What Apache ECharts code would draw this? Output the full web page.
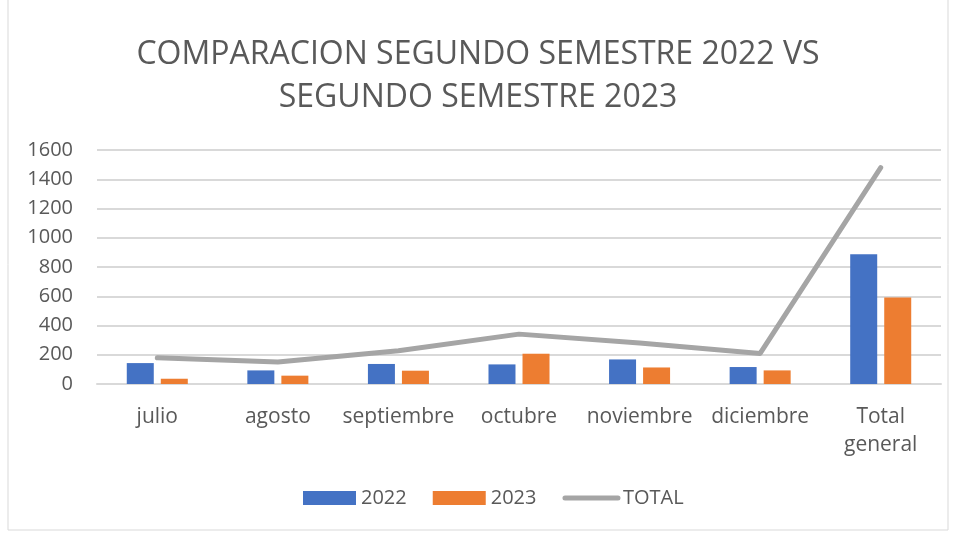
<!DOCTYPE html>
<html>
<head>
<meta charset="utf-8">
<script src="https://cdn.jsdelivr.net/npm/echarts@6/dist/echarts.min.js"></script>
<style>
  html, body { margin: 0; padding: 0; background: #fff; }
  #chart { width: 956px; height: 533px; }
</style>
</head>
<body>
<div id="chart"></div>
<script>
// categorias del eje x
const categories = ["julio", "agosto", "septiembre", "octubre", "noviembre", "diciembre", "Total\ngeneral"];
// valores por serie
const data2022 = [143, 93, 137, 134, 168, 116, 888];
const data2023 = [36, 57, 91, 207, 113, 93, 592];
const dataTotal = [179, 150, 228, 341, 281, 209, 1480];
const yTicks = [0, 200, 400, 600, 800, 1000, 1200, 1400, 1600];

const font = '"Open Sans", "Noto Sans", sans-serif';
const textColor = "#595959";

let myChart = echarts.init(document.getElementById("chart"));
let options = {
  animation: false,
  title: {
    text: "COMPARACION SEGUNDO SEMESTRE 2022 VS\nSEGUNDO SEMESTRE 2023",
    left: "center",
    top: 28,
    textStyle: {
      fontFamily: font,
      fontSize: 32,
      fontWeight: "normal",
      color: textColor,
      lineHeight: 43,
    },
  },
  graphic: [
    {
      type: "rect",
      shape: { x: 8, y: -2, width: 940, height: 532 },
      style: { fill: "none", stroke: "#d9d9d9", lineWidth: 1 },
    },
  ],
  grid: {
    left: 97,
    right: 15,
    top: 150,
    bottom: 149,
    containLabel: false,
  },
  legend: {
    bottom: 20,
    left: 298,
    itemWidth: 53,
    itemHeight: 14,
    itemGap: 26,
    textStyle: { fontFamily: font, fontSize: 20, color: textColor },
    data: [
      { name: "2022", icon: "rect" },
      { name: "2023", icon: "rect" },
      { name: "TOTAL", itemStyle: { opacity: 0 }, lineStyle: { width: 5, cap: "round" } },
    ],
  },
  xAxis: {
    type: "category",
    data: categories,
    axisTick: { show: false },
    axisLine: { lineStyle: { color: "#d9d9d9", width: 2 } },
    axisLabel: {
      fontFamily: font,
      fontSize: 21,
      color: textColor,
      margin: 19,
      lineHeight: 28,
      interval: 0,
    },
  },
  yAxis: {
    type: "value",
    min: yTicks[0],
    max: yTicks[yTicks.length - 1],
    interval: 200,
    axisLine: { show: false },
    axisTick: { show: false },
    axisLabel: {
      fontFamily: font,
      fontSize: 20,
      color: textColor,
      margin: 24,
      formatter: (v) => String(v),
    },
    splitLine: { lineStyle: { color: "#d9d9d9", width: 2 } },
  },
  series: [
    {
      name: "2022",
      type: "bar",
      data: data2022,
      barWidth: 27,
      barGap: "26%",
      itemStyle: { color: "#4472c4" },
    },
    {
      name: "2023",
      type: "bar",
      data: data2023,
      barWidth: 27,
      itemStyle: { color: "#ed7d31" },
    },
    {
      name: "TOTAL",
      type: "line",
      data: dataTotal,
      symbol: "none",
      lineStyle: { color: "#a5a5a5", width: 5, cap: "round", join: "round" },
      itemStyle: { color: "#a5a5a5" },
    },
  ],
};
options && myChart.setOption(options);
window.onresize = myChart.resize;
</script>
</body>
</html>
